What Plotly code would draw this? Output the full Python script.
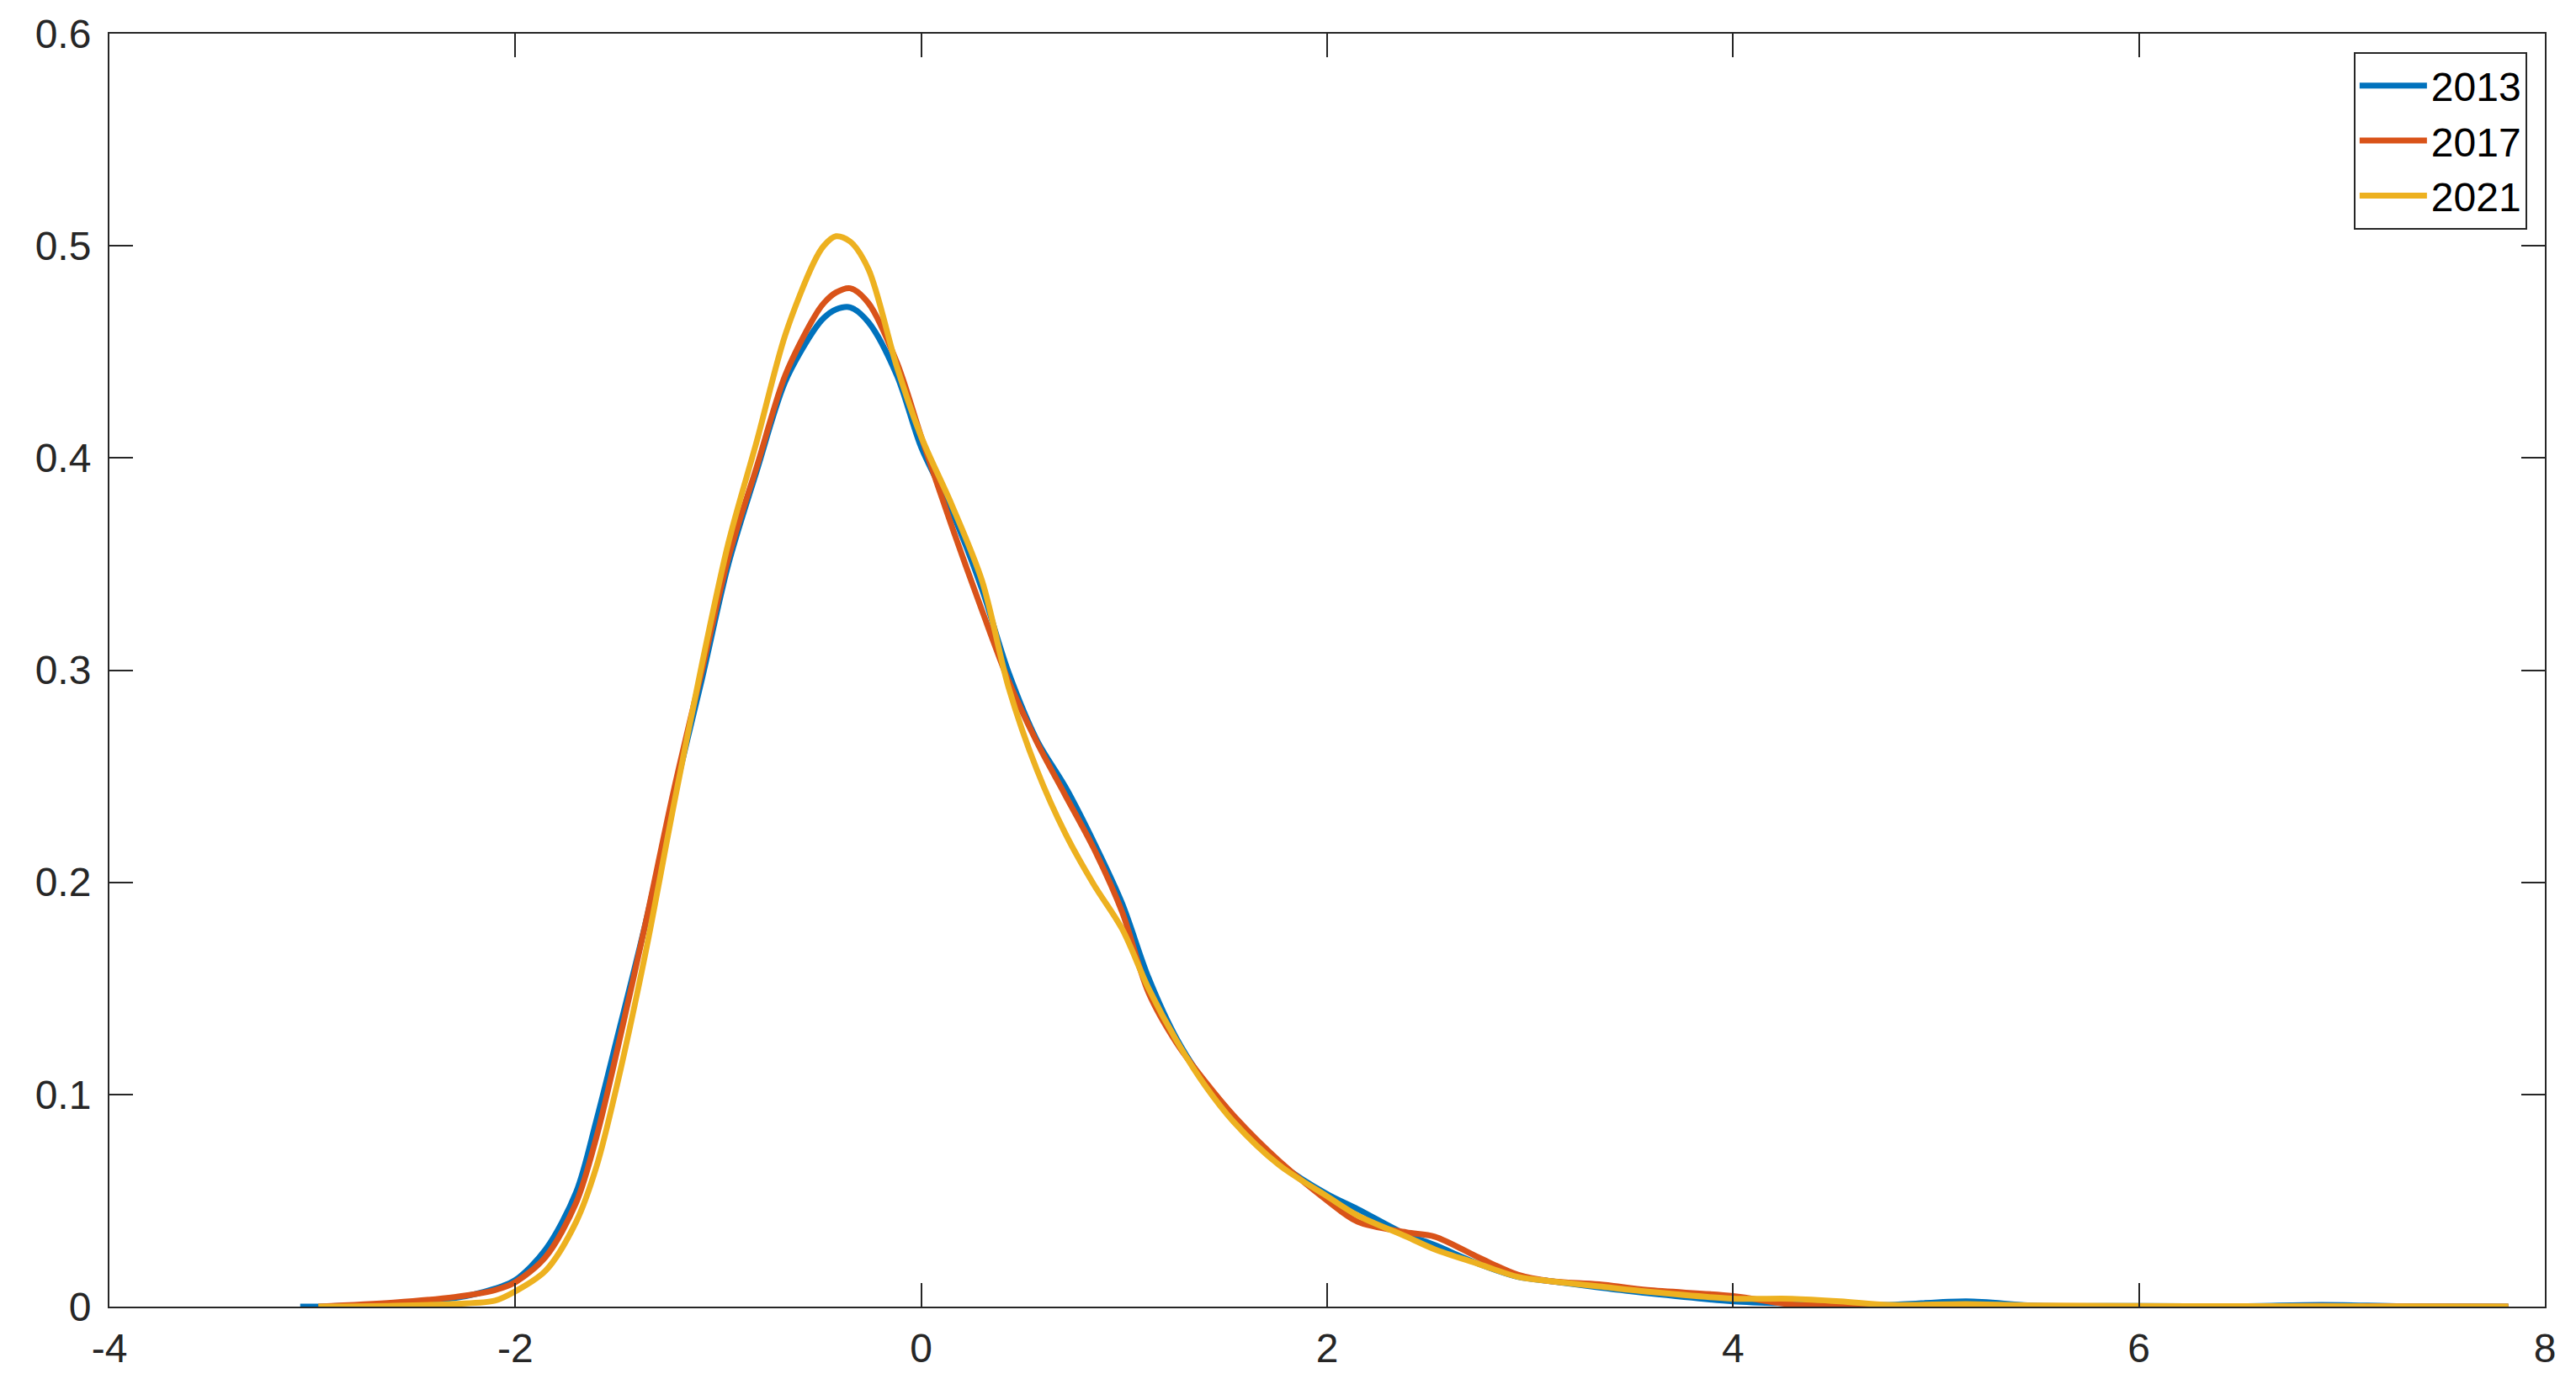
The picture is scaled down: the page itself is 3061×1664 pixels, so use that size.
import plotly.graph_objects as go

# Shared x grid
x_vals = [-3.06, -2.97, -2.6, -2.3, -2.1, -2.0, -1.85, -1.7, -1.6, -1.5, -1.36, -1.22,
          -1.08, -0.95, -0.81, -0.67, -0.53, -0.48, -0.42, -0.35, -0.26, -0.12, 0.0, 0.15,
          0.3, 0.43, 0.57, 0.71, 0.85, 0.99, 1.12, 1.26, 1.4, 1.54, 1.76, 2.0, 2.15,
          2.39, 2.53, 2.75, 2.94, 3.1, 3.34, 3.58, 4.0, 4.29, 4.53, 4.77, 5.15, 5.5,
          6.0, 6.5, 6.9, 7.3, 7.82]

y_2013 = [0.0, 0.0, 0.0015, 0.004, 0.0085, 0.0125, 0.027, 0.054, 0.088, 0.126, 0.180, 0.240,
          0.296, 0.350, 0.394, 0.436, 0.460, 0.466, 0.470, 0.471, 0.464, 0.439, 0.405, 0.375,
          0.338, 0.299, 0.267, 0.245, 0.219, 0.190, 0.155, 0.126, 0.105, 0.088, 0.068,
          0.053, 0.046, 0.034, 0.029, 0.020, 0.014, 0.012, 0.009, 0.0063, 0.0025, 0.0015,
          0.001, 0.0008, 0.0025, 0.0004, 0.0003, 0.0002, 0.0008, 0.0002, 0.0]

y_2017 = [None, 0.0, 0.0019, 0.0045, 0.0078, 0.0115, 0.0235, 0.049, 0.080, 0.120, 0.180, 0.243,
          0.300, 0.353, 0.396, 0.439, 0.466, 0.473, 0.478, 0.480, 0.473, 0.445, 0.410, 0.368,
          0.328, 0.295, 0.266, 0.241, 0.216, 0.186, 0.148, 0.124, 0.106, 0.090, 0.069,
          0.050, 0.040, 0.035, 0.033, 0.023, 0.015, 0.012, 0.0105, 0.0078, 0.005, 0.001,
          0.0005, 0.0003, 0.0006, 0.0003, 0.0002, 0.0001, 0.0003, 0.0001, 0.0]

y_2021 = [None, 0.0, 0.0004, 0.0013, 0.0028, 0.0072, 0.017, 0.040, 0.066, 0.104, 0.166, 0.236,
          0.303, 0.360, 0.408, 0.458, 0.492, 0.500, 0.5045, 0.502, 0.489, 0.443, 0.410, 0.378,
          0.342, 0.292, 0.253, 0.223, 0.199, 0.178, 0.150, 0.125, 0.104, 0.087, 0.067,
          0.052, 0.043, 0.033, 0.027, 0.020, 0.014, 0.012, 0.0095, 0.007, 0.0038, 0.0037,
          0.0025, 0.0008, 0.0012, 0.0005, 0.0003, 0.0002, 0.0002, 0.0001, 0.0]

series_names = ["2013", "2017", "2021"]
series_values = [y_2013, y_2017, y_2021]
colors = ["#0072BD", "#D95319", "#EDB120"]

x_ticks = [-4, -2, 0, 2, 4, 6, 8]
y_ticks = [0, 0.1, 0.2, 0.3, 0.4, 0.5, 0.6]
y_tick_labels = ["0", "0.1", "0.2", "0.3", "0.4", "0.5", "0.6"]

fig = go.Figure()
for name, yv, col in zip(series_names, series_values, colors):
    fig.add_trace(go.Scatter(
        x=x_vals, y=yv, name=name, mode="lines",
        line=dict(color=col, width=7, shape="spline", smoothing=0.9),
        connectgaps=False,
    ))

axis_common = dict(
    showgrid=False, zeroline=False, showline=True, linecolor="#262626", linewidth=2,
    mirror="ticks", ticks="inside", ticklen=28, tickwidth=2, tickcolor="#262626",
    automargin=False,
    tickfont=dict(family="Liberation Sans, Arial, sans-serif", size=48, color="#262626"),
)

# page body has an 8px default margin, so the figure is offset by 8px
fig.update_layout(
    width=3061, height=1664,
    margin=dict(l=122, r=45, t=32, b=119, autoexpand=False),
    paper_bgcolor="white", plot_bgcolor="white",
    xaxis=dict(range=[-4, 8], tickvals=x_ticks, ticktext=[str(t) for t in x_ticks],
               ticklabelstandoff=6, **axis_common),
    yaxis=dict(range=[0, 0.6], tickvals=y_ticks, ticktext=y_tick_labels,
               ticklabelstandoff=10, **axis_common),
    legend=dict(
        x=0.9927, y=0.9855, xanchor="right", yanchor="top",
        bgcolor="white", bordercolor="#262626", borderwidth=2,
        font=dict(family="Liberation Sans, Arial, sans-serif", size=48, color="#000000"),
        itemwidth=80, tracegroupgap=0,
    ),
    showlegend=True,
)

fig.write_html("out.html")
